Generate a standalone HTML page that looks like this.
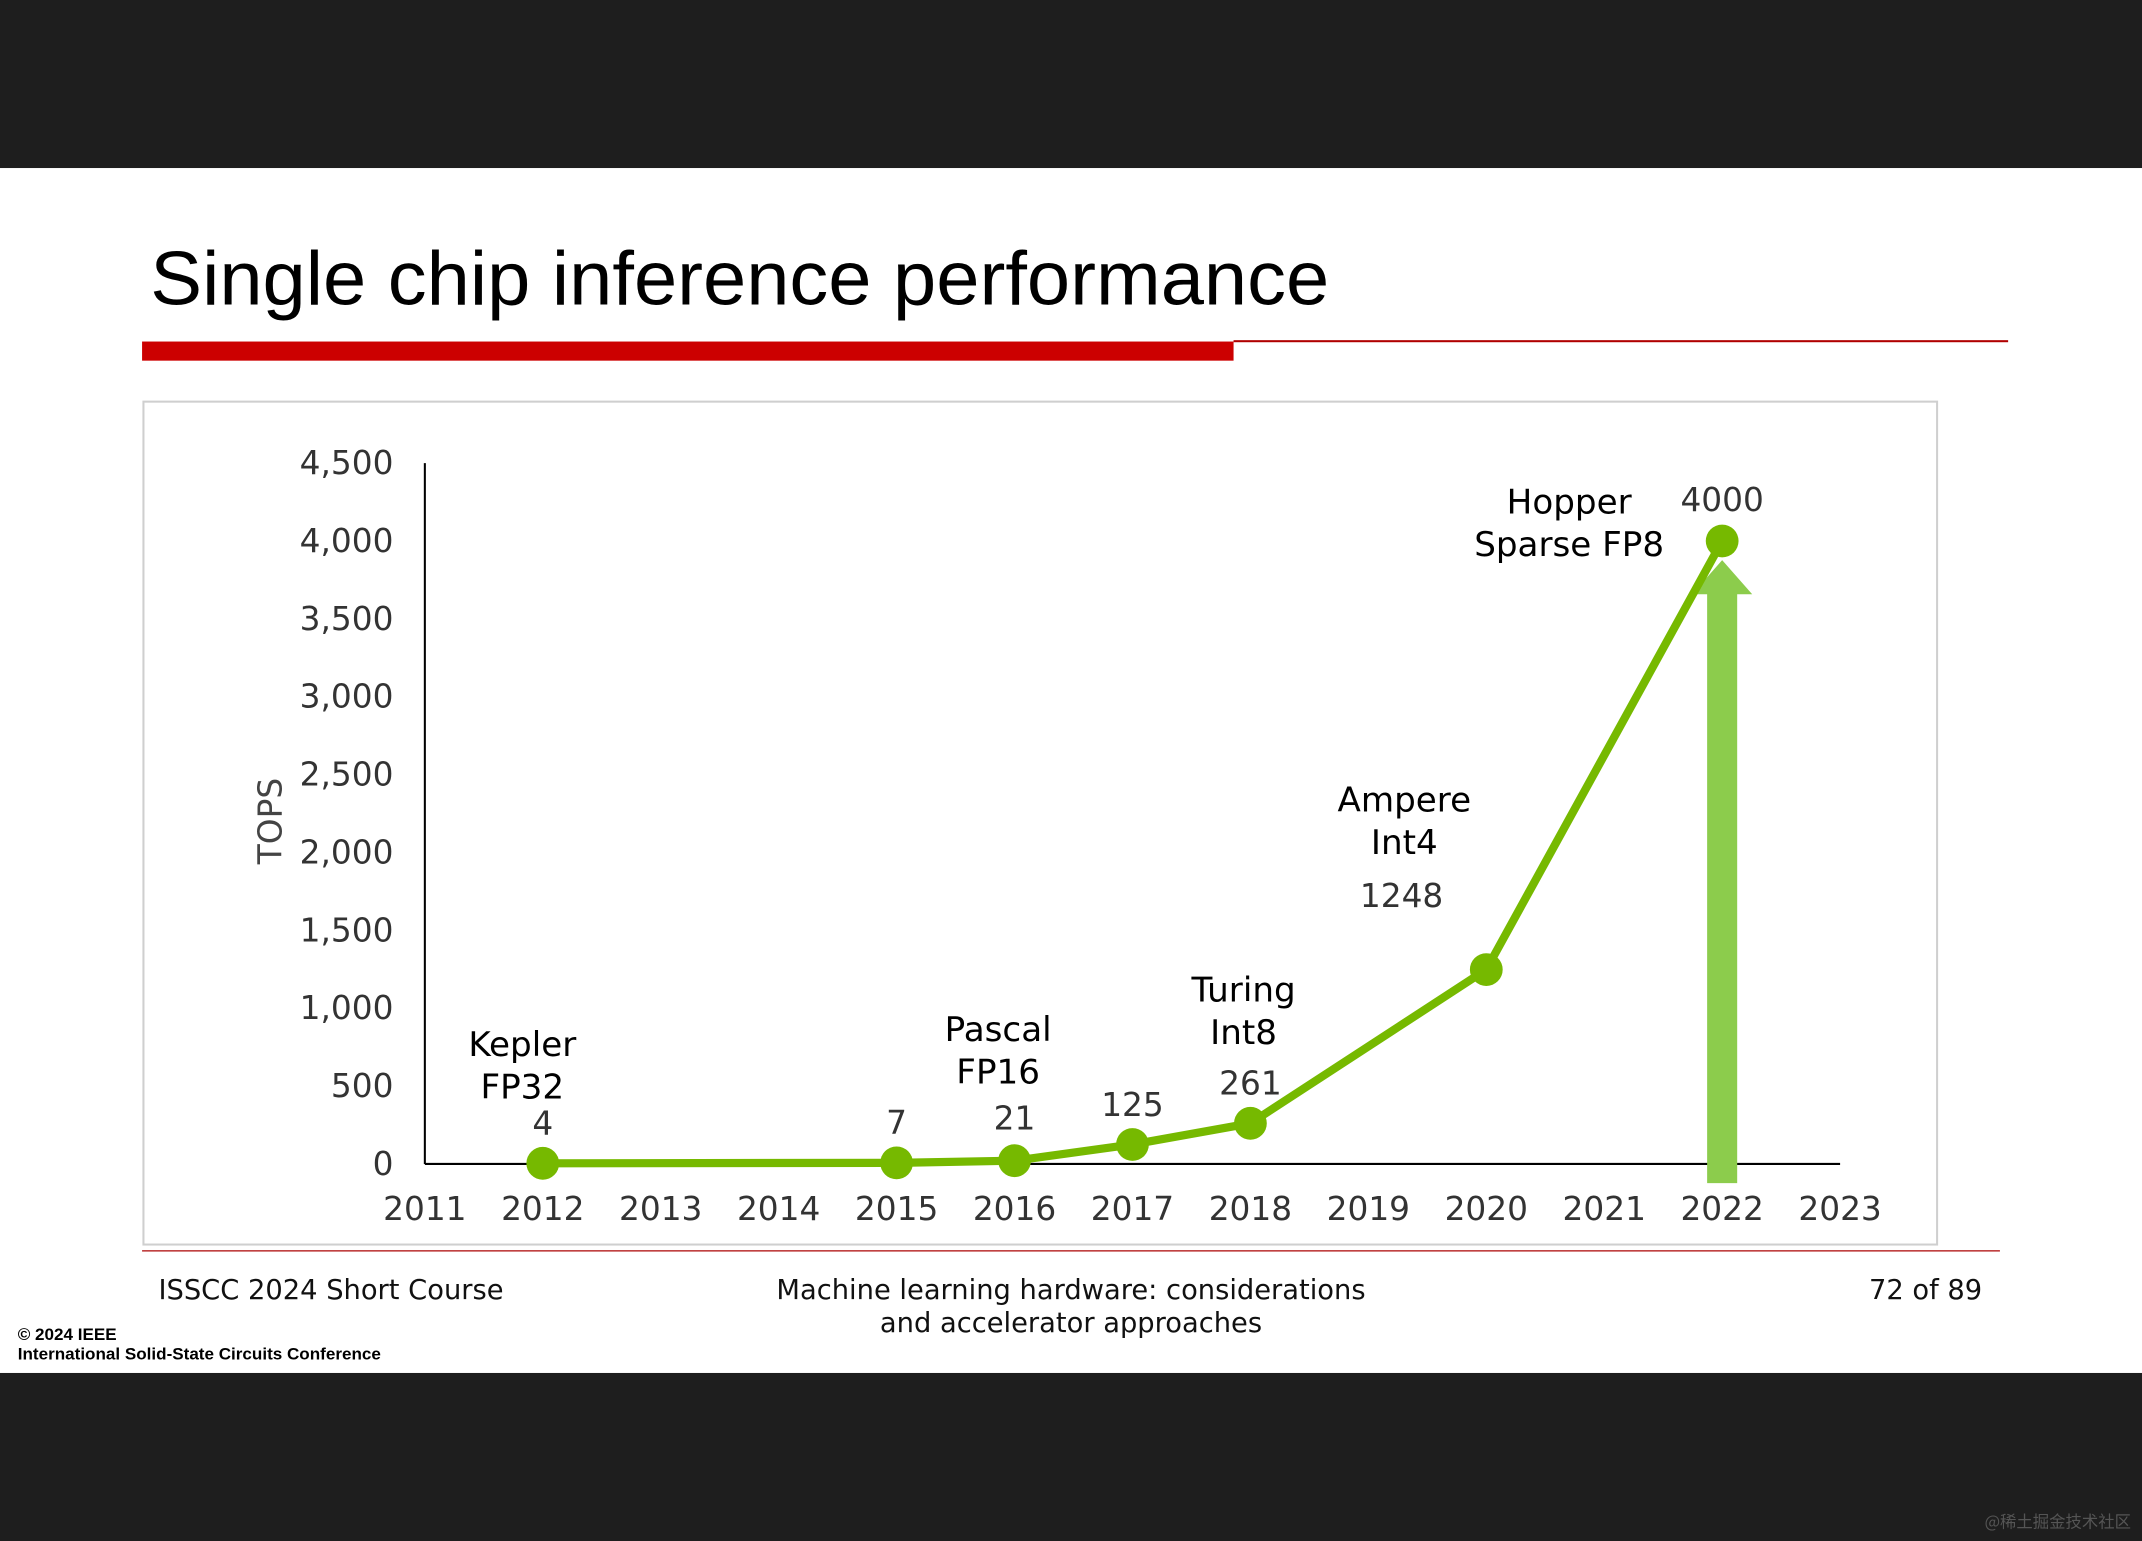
<!DOCTYPE html>
<html><head><meta charset="utf-8"><style>
html,body{margin:0;padding:0;background:#fff;}
svg{display:block;}
</style></head><body>
<svg id="s" width="2142" height="1541" viewBox="0 0 1568 1128" preserveAspectRatio="none" xmlns="http://www.w3.org/2000/svg">
<rect x="0" y="0" width="1568" height="123" fill="#1e1e1e"/>
<rect x="0" y="1005" width="1568" height="123" fill="#1e1e1e"/>
<text x="110" y="223" font-family="Liberation Sans, sans-serif" font-size="56" textLength="863" lengthAdjust="spacingAndGlyphs" fill="#000">Single chip inference performance</text>
<rect x="104" y="250" width="799" height="14" fill="#cc0000"/>
<rect x="903" y="249" width="567" height="1.5" fill="#b00000"/>
<rect x="105" y="294" width="1313" height="617" fill="#fff" stroke="#cfcfcf" stroke-width="1.5"/>
<g id="chart"></g>
<rect x="104" y="915" width="1360" height="1.2" fill="#c04040"/>
<g font-family="DejaVu Sans, sans-serif" font-size="20" fill="#111">
<text x="116" y="951">ISSCC 2024 Short Course</text>
<text x="784" y="951" text-anchor="middle">Machine learning hardware:  considerations</text>
<text x="784" y="975" text-anchor="middle">and accelerator approaches</text>
<text x="1451" y="951" text-anchor="end">72 of 89</text>
</g>
<g font-family="Liberation Sans, sans-serif" font-size="12.5" font-weight="bold" fill="#000">
<text x="13" y="981">© 2024 IEEE</text>
<text x="13" y="995">International Solid-State Circuits Conference</text>
</g>
<text x="1560" y="1118" text-anchor="end" font-family="Noto Sans CJK SC, sans-serif" font-size="12" fill="#555">@稀土掘金技术社区</text>
</svg>
<script>
const years = [2012, 2015, 2016, 2017, 2018, 2020, 2022];
const values = [4, 7, 21, 125, 261, 1248, 4000];
const valueLabels = ["4", "7", "21", "125", "261", "1248", "4000"];
const yTicks = [0, 500, 1000, 1500, 2000, 2500, 3000, 3500, 4000, 4500];
const yTickLabels = ["0", "500", "1,000", "1,500", "2,000", "2,500", "3,000", "3,500", "4,000", "4,500"];
const xTicks = [2011, 2012, 2013, 2014, 2015, 2016, 2017, 2018, 2019, 2020, 2021, 2022, 2023];
const chipYears = [2012, 2016, 2018, 2020, 2022];
const chipLine1 = ["Kepler", "Pascal", "Turing", "Ampere", "Hopper"];
const chipLine2 = ["FP32", "FP16", "Int8", "Int4", "Sparse FP8"];

const NS = "http://www.w3.org/2000/svg";
const chartG = document.getElementById('chart');
const X0 = 311, X1 = 1347, Y0 = 852, Y1 = 339;
function xs(v) { return X0 + (v - 2011) / (2023 - 2011) * (X1 - X0); }
function ys(v) { return Y0 - v / 4500 * (Y0 - Y1); }
function mk(tag, attrs, txt) {
  const el = document.createElementNS(NS, tag);
  for (const k in attrs) el.setAttribute(k, attrs[k]);
  if (txt !== undefined) el.textContent = txt;
  chartG.appendChild(el);
  return el;
}
let e;
e = mk('line', {x1: X0, y1: Y1, x2: X0, y2: Y0, stroke: '#000', 'stroke-width': 1.5});


e = mk('line', {x1: X0, y1: Y0, x2: X1, y2: Y0, stroke: '#000', 'stroke-width': 1.5});


yTicks.forEach((t, i) => {
  e = mk('text', {x: 288, y: ys(t), 'text-anchor': 'end', 'dominant-baseline': 'central', 'font-family': 'DejaVu Sans, sans-serif', 'font-size': 24, fill: '#333'}, yTickLabels[i]);
  
  
});
xTicks.forEach(t => {
  e = mk('text', {x: xs(t), y: 885, 'text-anchor': 'middle', 'dominant-baseline': 'central', 'font-family': 'DejaVu Sans, sans-serif', 'font-size': 24, fill: '#333'}, String(t));
  
  
});
e = mk('text', {x: 198, y: 601, 'text-anchor': 'middle', 'dominant-baseline': 'central', 'font-family': 'DejaVu Sans, sans-serif', 'font-size': 24, fill: '#444', transform: 'rotate(-90 198 601)'}, 'TOPS');


const arrowX = xs(years[years.length - 1]);
const arrowTop = ys(values[values.length - 1]) + 14;
e = mk('path', {d: `M${arrowX - 11} ${Y0 + 14} L${arrowX - 11} ${arrowTop + 25} L${arrowX - 22} ${arrowTop + 25} L${arrowX} ${arrowTop} L${arrowX + 22} ${arrowTop + 25} L${arrowX + 11} ${arrowTop + 25} L${arrowX + 11} ${Y0 + 14} Z`, fill: '#8ccc4c'});


e = mk('polyline', {points: years.map((y, i) => xs(y) + ',' + ys(values[i])).join(' '), fill: 'none', stroke: '#76b900', 'stroke-width': 6, 'stroke-linejoin': 'round'});


years.forEach((y, i) => {
  e = mk('circle', {cx: xs(y), cy: ys(values[i]), r: 12, fill: '#76b900'});
  
  
});
const labelDy = [-29, -29, -31, -29, -29, -54, -30];
const labelDx = [0, 0, 0, 0, 0, -62, 0];
years.forEach((y, i) => {
  const yy = ys(values[i]) + labelDy[i];
  e = mk('text', {x: xs(y) + labelDx[i], y: yy, 'text-anchor': 'middle', 'dominant-baseline': 'central', 'font-family': 'DejaVu Sans, sans-serif', 'font-size': 24, fill: '#333'}, valueLabels[i]);
  
  
});
const chipDx = [-15, -12, -5, -60, -112];
const chipY = [765, 754, 725, 586, 368];
chipYears.forEach((y, i) => {
  const cx = xs(y) + chipDx[i];
  e = mk('text', {x: cx, y: chipY[i], 'text-anchor': 'middle', 'dominant-baseline': 'central', 'font-family': 'DejaVu Sans, sans-serif', 'font-size': 25, fill: '#000'}, chipLine1[i]);
  
  
  e = mk('text', {x: cx, y: chipY[i] + 31, 'text-anchor': 'middle', 'dominant-baseline': 'central', 'font-family': 'DejaVu Sans, sans-serif', 'font-size': 25, fill: '#000'}, chipLine2[i]);
  
  
});
</script>
</body></html>
